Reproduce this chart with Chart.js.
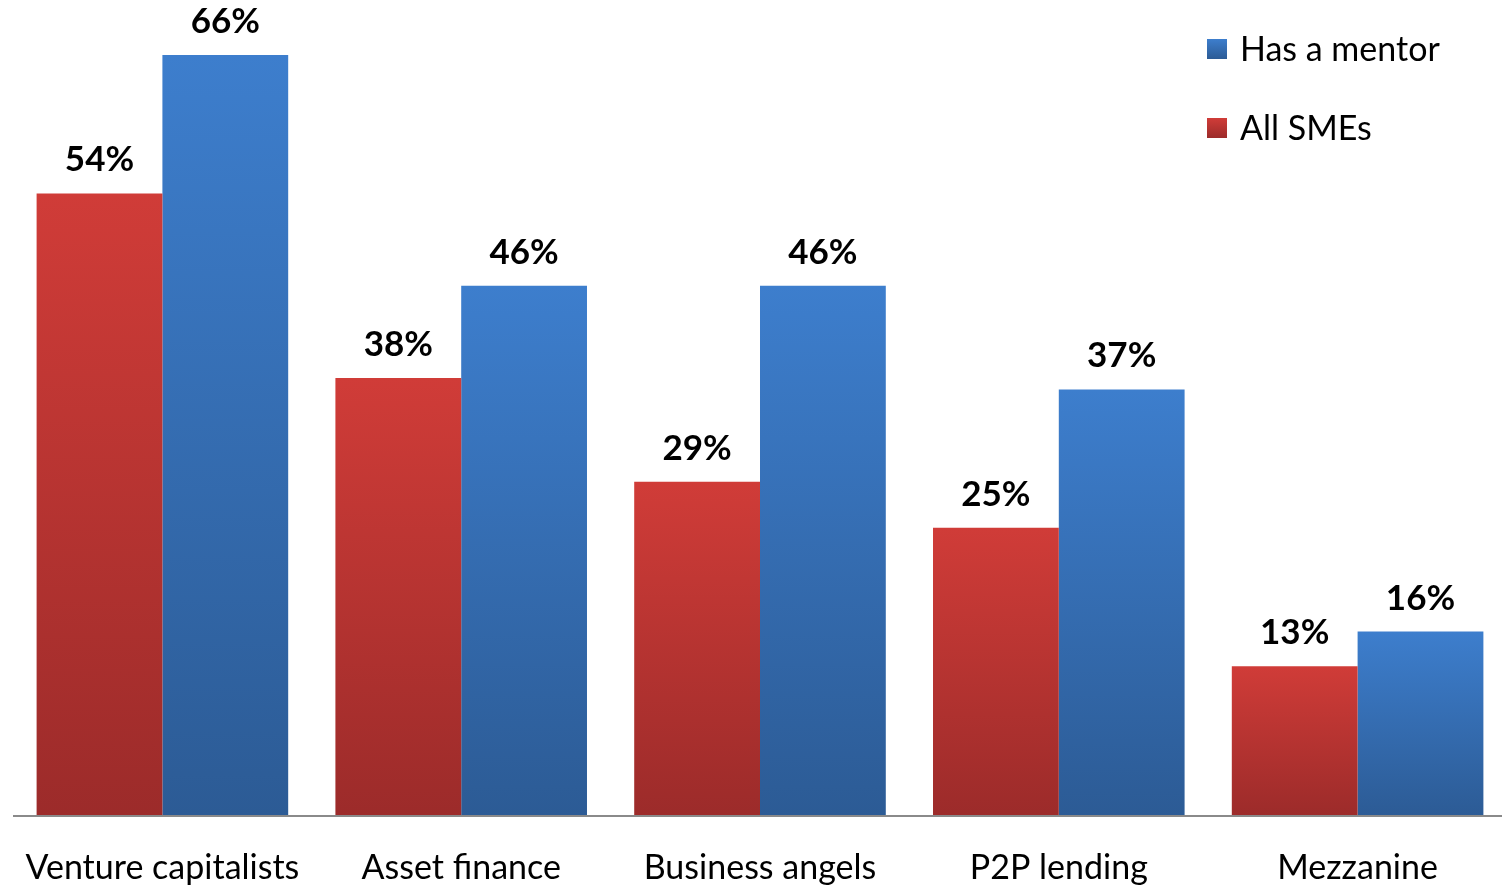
<!DOCTYPE html>
<html>
<head>
<meta charset="utf-8">
<script src="https://cdn.jsdelivr.net/npm/chart.js@4.4.1/dist/chart.umd.min.js"></script>
<style>
  html, body { margin: 0; padding: 0; background: #fff; overflow: hidden; }
  #wrap { width: 1507px; height: 886px; }
</style>
</head>
<body>
<div id="wrap"><canvas id="myBarChart"></canvas></div>
<script>
// -- Finance sources, SMEs vs SMEs with a mentor
var categories = ["Venture capitalists", "Asset finance", "Business angels", "P2P lending", "Mezzanine"];
var allSmes = [54, 38, 29, 25, 13];
var hasMentor = [66, 46, 46, 37, 16];

var fontFamily = "Lato, 'Open Sans', sans-serif";

var redTop = '#d03c38', redBottom = '#9c2b2a';
var blueTop = '#3d7ecd', blueBottom = '#2c5b95';

// vertical gradient per bar, from its top down to the baseline
function barGradient(top, bottom) {
  return function(context) {
    var chart = context.chart;
    var y = chart.scales.y;
    if (!chart.chartArea || !y || context.raw == null) return top;
    var y0 = y.getPixelForValue(context.raw);
    var y1 = y.getPixelForValue(0);
    var g = chart.ctx.createLinearGradient(0, y0, 0, y1);
    g.addColorStop(0, top);
    g.addColorStop(1, bottom);
    return g;
  };
}

// value labels over the bars + axis line over the bar bottoms
var valueLabels = {
  id: 'valueLabels',
  afterDatasetsDraw: function(chart) {
    var ctx = chart.ctx;
    var area = chart.chartArea;
    ctx.save();
    ctx.strokeStyle = '#8a8a8a';
    ctx.lineWidth = 2;
    ctx.beginPath();
    ctx.moveTo(area.left, area.bottom);
    ctx.lineTo(area.right, area.bottom);
    ctx.stroke();

    ctx.font = 'bold 35px ' + fontFamily;
    ctx.fillStyle = '#000';
    ctx.textAlign = 'center';
    ctx.textBaseline = 'alphabetic';
    chart.data.datasets.forEach(function(ds, i) {
      chart.getDatasetMeta(i).data.forEach(function(bar, j) {
        ctx.fillText(ds.data[j] + '%', bar.x, bar.y - 22);
      });
    });
    ctx.restore();
  }
};

// legend in the top right corner, mentor series first
var cornerLegend = {
  id: 'cornerLegend',
  afterDraw: function(chart) {
    var ctx = chart.ctx;
    var items = [
      { text: 'Has a mentor', top: blueTop, bottom: blueBottom },
      { text: 'All SMEs', top: redTop, bottom: redBottom }
    ];
    var x = chart.width - 300;
    ctx.save();
    ctx.font = '34px ' + fontFamily;
    ctx.textBaseline = 'middle';
    items.forEach(function(item, i) {
      var cy = 49 + i * 79;
      var g = ctx.createLinearGradient(0, cy - 10, 0, cy + 10);
      g.addColorStop(0, item.top);
      g.addColorStop(1, item.bottom);
      ctx.fillStyle = g;
      ctx.fillRect(x, cy - 10, 20, 20);
      ctx.fillStyle = '#000';
      ctx.fillText(item.text, x + 33, cy + 1);
    });
    ctx.restore();
  }
};

var ctx = document.getElementById("myBarChart");

var myBarChart = new Chart(ctx, {
  type: 'bar',
  data: {
    labels: categories,
    datasets: [{
      label: 'All SMEs',
      data: allSmes,
      backgroundColor: barGradient(redTop, redBottom),
      categoryPercentage: 0.842,
      barPercentage: 1.0
    }, {
      label: 'Has a mentor',
      data: hasMentor,
      backgroundColor: barGradient(blueTop, blueBottom),
      categoryPercentage: 0.842,
      barPercentage: 1.0
    }]
  },
  options: {
    responsive: true,
    maintainAspectRatio: false,
    animation: false,
    events: [],
    layout: {
      padding: { left: 13, right: 0, top: 9, bottom: -35 }
    },
    plugins: {
      legend: { display: false },
      tooltip: { enabled: false }
    },
    scales: {
      x: {
        grid: { display: false, drawTicks: false },
        border: { display: false },
        ticks: {
          color: '#000',
          padding: 3,
          maxRotation: 0,
          font: { family: fontFamily, size: 34, lineHeight: '99px' }
        }
      },
      y: {
        display: false,
        min: 0,
        max: 70
      }
    }
  },
  plugins: [valueLabels, cornerLegend]
});
</script>
</body>
</html>
